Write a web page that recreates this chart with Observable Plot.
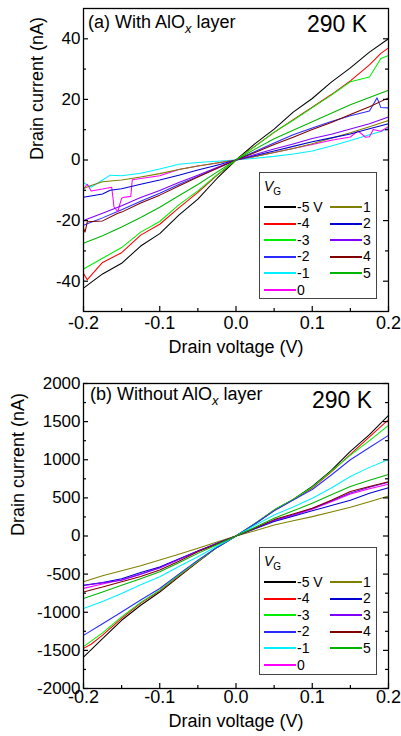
<!DOCTYPE html>
<html>
<head>
<meta charset="utf-8">
<script src="https://cdn.jsdelivr.net/npm/d3@7"></script>
<script src="https://cdn.jsdelivr.net/npm/@observablehq/plot@0.6"></script>
<style>
  html, body { margin: 0; padding: 0; background: #fff; }
  body { width: 401px; height: 736px; overflow: hidden; font-family: "Liberation Sans", Arial, sans-serif; color: #000; }
  .panel { position: relative; width: 401px; }
  .panel svg { display: block; }
  .lab { position: absolute; white-space: nowrap; line-height: 1; }
  .legend { position: absolute; border: 1.3px solid #444; background: #fff; box-sizing: border-box; }
  .legend .t { position: absolute; font-size: 14px; line-height: 1; white-space: nowrap; }
  .legend .s { position: absolute; height: 2px; }
</style>
</head>
<body>
<div id="top" class="panel"></div>
<div id="bot" class="panel"></div>
<script>
// ---------- data ----------
const V = [-0.2,-0.175,-0.15,-0.125,-0.1,-0.075,-0.05,-0.025,0,0.025,0.05,0.075,0.1,0.125,0.15,0.175,0.2];
const gates = ["-5","-4","-3","-2","-1","0","1","2","3","4","5"];
const gateLabels = ["-5 V","-4","-3","-2","-1","0","1","2","3","4","5"];
const colors = ["#000000","#ff0000","#00ee00","#2a2aff","#00f0ff","#ff00ff","#808000","#0000d0","#8000ff","#800000","#00b400"];

// (a) with AlOx layer, drain current (nA) on grid V
const topM5 = [-42.3,-37.6,-34.1,-28.4,-24.3,-18.2,-12.9,-6.1,0,5.4,10.2,15.8,20.3,25.7,30.4,35.6,40.0];
const topM4 = [-37.5,-33.8,-30.6,-24.8,-21.2,-15.8,-10.7,-5.1,0,4.6,9.1,13.3,17.4,21.6,26.1,31.4,37.0];
const topM3 = [-36.0,-32.4,-28.9,-23.8,-20.3,-14.8,-10.2,-4.9,0,4.5,9.2,13.1,17.3,21.4,25.8,27.4,34.5];
const topM2 = [-21.5,-19.1,-16.4,-13.6,-11.0,-8.1,-5.4,-2.6,0,2.8,5.6,8.3,10.6,12.7,14.6,16.2,17.2];
const topM1 = [-7.5,-6.6,-5.2,-4.4,-3.0,-1.4,-0.8,-0.4,0,0.6,1.2,2.0,3.0,4.6,6.4,8.3,10.5];
const top0  = [-9.5,-9.6,-12.6,-6.1,-5.2,-3.1,-2.0,-1.0,0,1.2,2.5,3.8,5.1,6.5,7.6,7.7,11.0];
const topP1 = [-9.4,-7.2,-6.6,-5.6,-4.5,-3.1,-2.0,-1.0,0,1.2,2.5,3.8,5.4,7.2,9.0,11.0,13.0];
const topP2 = [-12.3,-11.2,-9.5,-8.0,-6.6,-5.0,-3.3,-1.7,0,1.5,3.0,4.5,6.0,7.3,8.6,10.3,12.0];
const topP3 = [-20.0,-17.6,-15.1,-12.4,-10.1,-7.4,-5.0,-2.5,0,1.8,3.6,5.3,7.1,8.5,10.2,12.0,14.2];
const topP4 = [-22.5,-20.1,-17.2,-14.2,-11.6,-8.6,-5.6,-2.8,0,2.5,5.1,7.5,10.1,12.4,15.0,17.6,20.5];
const topP5 = [-27.5,-25.0,-22.1,-19.0,-15.6,-11.8,-8.1,-4.0,0,3.6,7.0,9.8,12.6,15.4,18.2,20.6,23.0];
// extra read-off points (spikes / steps) : [gate, V, I]
const topExtra = [
  ["-4",-0.195,-39.5],["-4",0.19,35.2],
  ["-3",0.19,33.5],
  ["-2",0.185,20.5],["-2",0.19,17.3],
  ["-1",-0.19,-9.0],["-1",-0.165,-5.0],["-1",0.19,9.4],
  ["0",-0.195,-8.0],["0",-0.19,-10.2],["0",-0.163,-9.0],["0",-0.16,-15.5],["0",-0.155,-17.0],["0",-0.148,-12.4],["0",-0.138,-12.0],["0",-0.136,-6.5],
  ["0",0.16,9.6],["0",0.17,7.5],["0",0.18,10.1],["0",0.19,9.5],
  ["1",-0.19,-8.4],
  ["2",-0.165,-10.0],
  ["4",-0.198,-23.8],["4",-0.195,-20.4],["4",-0.155,-17.6]
];

// (b) without AlOx layer, drain current (nA) on grid V
const botM5 = [-1588,-1346,-1105,-908,-735,-535,-340,-150,0,160,340,480,650,860,1110,1330,1582];
const botM4 = [-1474,-1300,-1080,-880,-720,-525,-335,-150,0,160,335,475,630,840,1070,1300,1525];
const botM3 = [-1450,-1270,-1060,-870,-710,-515,-330,-150,0,165,340,480,640,850,1060,1250,1450];
const botM2 = [-1303,-1150,-996,-840,-689,-500,-316,-150,0,160,330,470,610,800,1000,1160,1320];
const botM1 = [-950,-860,-754,-640,-535,-400,-272,-135,0,140,276,380,496,630,780,900,1002];
const bot0  = [-687,-630,-575,-500,-410,-305,-195,-100,0,100,200,270,350,450,550,620,680];
const botP1 = [-601,-520,-456,-390,-316,-240,-162,-80,0,70,145,200,254,315,377,450,523];
const botP2 = [-645,-610,-560,-480,-405,-300,-195,-95,0,95,190,260,330,400,470,560,632];
const botP3 = [-650,-615,-580,-500,-420,-310,-200,-100,0,100,205,280,360,460,565,640,705];
const botP4 = [-733,-670,-601,-530,-447,-330,-206,-105,0,105,215,290,364,470,583,650,710];
const botP5 = [-820,-735,-645,-560,-470,-350,-228,-115,0,115,232,330,430,540,650,730,806];
const botExtra = [["-4",-0.19,-1420]];

// ticks
const xMajor = [-0.2,-0.1,0,0.1,0.2];
const xMinor = [-0.15,-0.05,0.05,0.15];
const topYMajor = [-40,-20,0,20,40];
const topYMinor = [-30,-10,10,30];
const botYMajor = [-2000,-1500,-1000,-500,0,500,1000,1500,2000];
const botYMinor = [-1750,-1250,-750,-250,250,750,1250,1750];

// ---------- build ----------
function buildRows(series, extra) {
  const out = [];
  gates.forEach((g, k) => series[k].forEach((i, j) => out.push({vg: g, v: V[j], i})));
  extra.forEach(([g, v, i]) => out.push({vg: g, v, i}));
  out.sort((a, b) => a.v - b.v);
  return out;
}
const topRows = buildRows([topM5,topM4,topM3,topM2,topM1,top0,topP1,topP2,topP3,topP4,topP5], topExtra);
const botRows = buildRows([botM5,botM4,botM3,botM2,botM1,bot0,botP1,botP2,botP3,botP4,botP5], botExtra);

const FONT = '"Liberation Sans", Arial, sans-serif';

function panel(rows, cfg) {
  const fw = 401 - cfg.ml - cfg.mr;
  const fh = cfg.h - cfg.mt - cfg.mb;
  return Plot.plot({
    width: 401, height: cfg.h,
    marginTop: cfg.mt, marginBottom: cfg.mb, marginLeft: cfg.ml, marginRight: cfg.mr,
    style: {fontFamily: FONT, fontSize: "17px", color: "#000", background: "#fff", overflow: "visible"},
    x: {domain: [-0.2, 0.2], axis: null},
    y: {domain: cfg.yDomain, axis: null},
    color: {domain: gates, range: colors},
    marks: [
      Plot.line(rows, {x: "v", y: "i", z: "vg", stroke: "vg", strokeWidth: 1.05}),
      Plot.frame({stroke: "#000", strokeWidth: 1.3}),
      // y ticks (inward, both sides)
      Plot.tickY(cfg.yMajor, {y: d => d, insetRight: fw - 5, strokeWidth: 1.2}),
      Plot.tickY(cfg.yMajor, {y: d => d, insetLeft: fw - 5, strokeWidth: 1.2}),
      Plot.tickY(cfg.yMinor, {y: d => d, insetRight: fw - 3, strokeWidth: 1.2}),
      Plot.tickY(cfg.yMinor, {y: d => d, insetLeft: fw - 3, strokeWidth: 1.2}),
      // x ticks (inward at bottom)
      Plot.tickX(xMajor, {x: d => d, insetTop: fh - 5, strokeWidth: 1.2}),
      Plot.tickX(xMinor, {x: d => d, insetTop: fh - 3, strokeWidth: 1.2}),
      // tick labels
      Plot.axisY(cfg.yMajor, {anchor: "left", tickSize: 0, tickPadding: 3, tickFormat: d => String(d), fontSize: 17, label: null}),
      Plot.axisX(xMajor, {anchor: "bottom", tickSize: 0, tickPadding: cfg.xPad, tickFormat: d => d.toFixed(1), fontSize: 18, label: null}),
      // axis titles
      Plot.text(["Drain voltage (V)"], {frameAnchor: "bottom", dy: cfg.xTitleDy, fontSize: 18, lineAnchor: "middle"}),
      Plot.text(["Drain current (nA)"], {frameAnchor: "left", dx: cfg.yTitleDx, rotate: -90, fontSize: 18, lineAnchor: "middle"})
    ]
  });
}

function addOverlays(el, o) {
  const mk = (html, css, cls) => {
    const d = document.createElement("div");
    d.className = cls; d.innerHTML = html;
    Object.assign(d.style, css);
    el.appendChild(d);
    return d;
  };
  mk(o.title, {left: o.titleX + "px", top: o.titleY + "px", fontSize: "18px"}, "lab");
  mk("290 K", {left: o.kX + "px", top: o.kY + "px", fontSize: "23px"}, "lab");
  const box = mk("", {left: o.lx + "px", top: o.ly + "px", width: "118px", height: o.lh + "px"}, "legend");
  const addT = (html, x, cy) => {
    const t = document.createElement("div");
    t.className = "t"; t.innerHTML = html;
    t.style.left = x + "px"; t.style.top = Math.round(cy - 7.5) + "px";
    box.appendChild(t);
  };
  addT('<i>V</i><span style="font-size:10px;position:relative;top:4px">G</span>', 4, 13);
  gates.forEach((g, k) => {
    const col = k < 6 ? 0 : 1;
    const row = k < 6 ? k : k - 6;
    const cy = 34 + row * 16.6;
    const s = document.createElement("div");
    s.className = "s";
    s.style.left = (col ? 70 : 4) + "px";
    s.style.width = "32px";
    s.style.top = Math.round(cy - 1) + "px";
    s.style.background = colors[k];
    box.appendChild(s);
    addT(gateLabels[k], col ? 103 : 37, cy);
  });
}

const topEl = document.getElementById("top");
topEl.appendChild(panel(topRows, {h: 360, mt: 8, mb: 49, ml: 83, mr: 13, yDomain: [-50, 50],
  yMajor: topYMajor, yMinor: topYMinor, xPad: 5, xTitleDy: 36, yTitleDx: -46}));
addOverlays(topEl, {title: '(a) With AlO<i style="font-size:13px;position:relative;top:5px">x</i> layer',
  titleX: 88, titleY: 13, kX: 307, kY: 13, lx: 259, ly: 172, lh: 127});

const botEl = document.getElementById("bot");
botEl.appendChild(panel(botRows, {h: 376, mt: 23, mb: 48, ml: 83, mr: 13, yDomain: [-2000, 2000],
  yMajor: botYMajor, yMinor: botYMinor, xPad: 2, xTitleDy: 33, yTitleDx: -65}));
addOverlays(botEl, {title: '(b) Without AlO<i style="font-size:13px;position:relative;top:5px">x</i> layer',
  titleX: 90, titleY: 25, kX: 312, kY: 28.5, lx: 259, ly: 187, lh: 128});
</script>
</body>
</html>
